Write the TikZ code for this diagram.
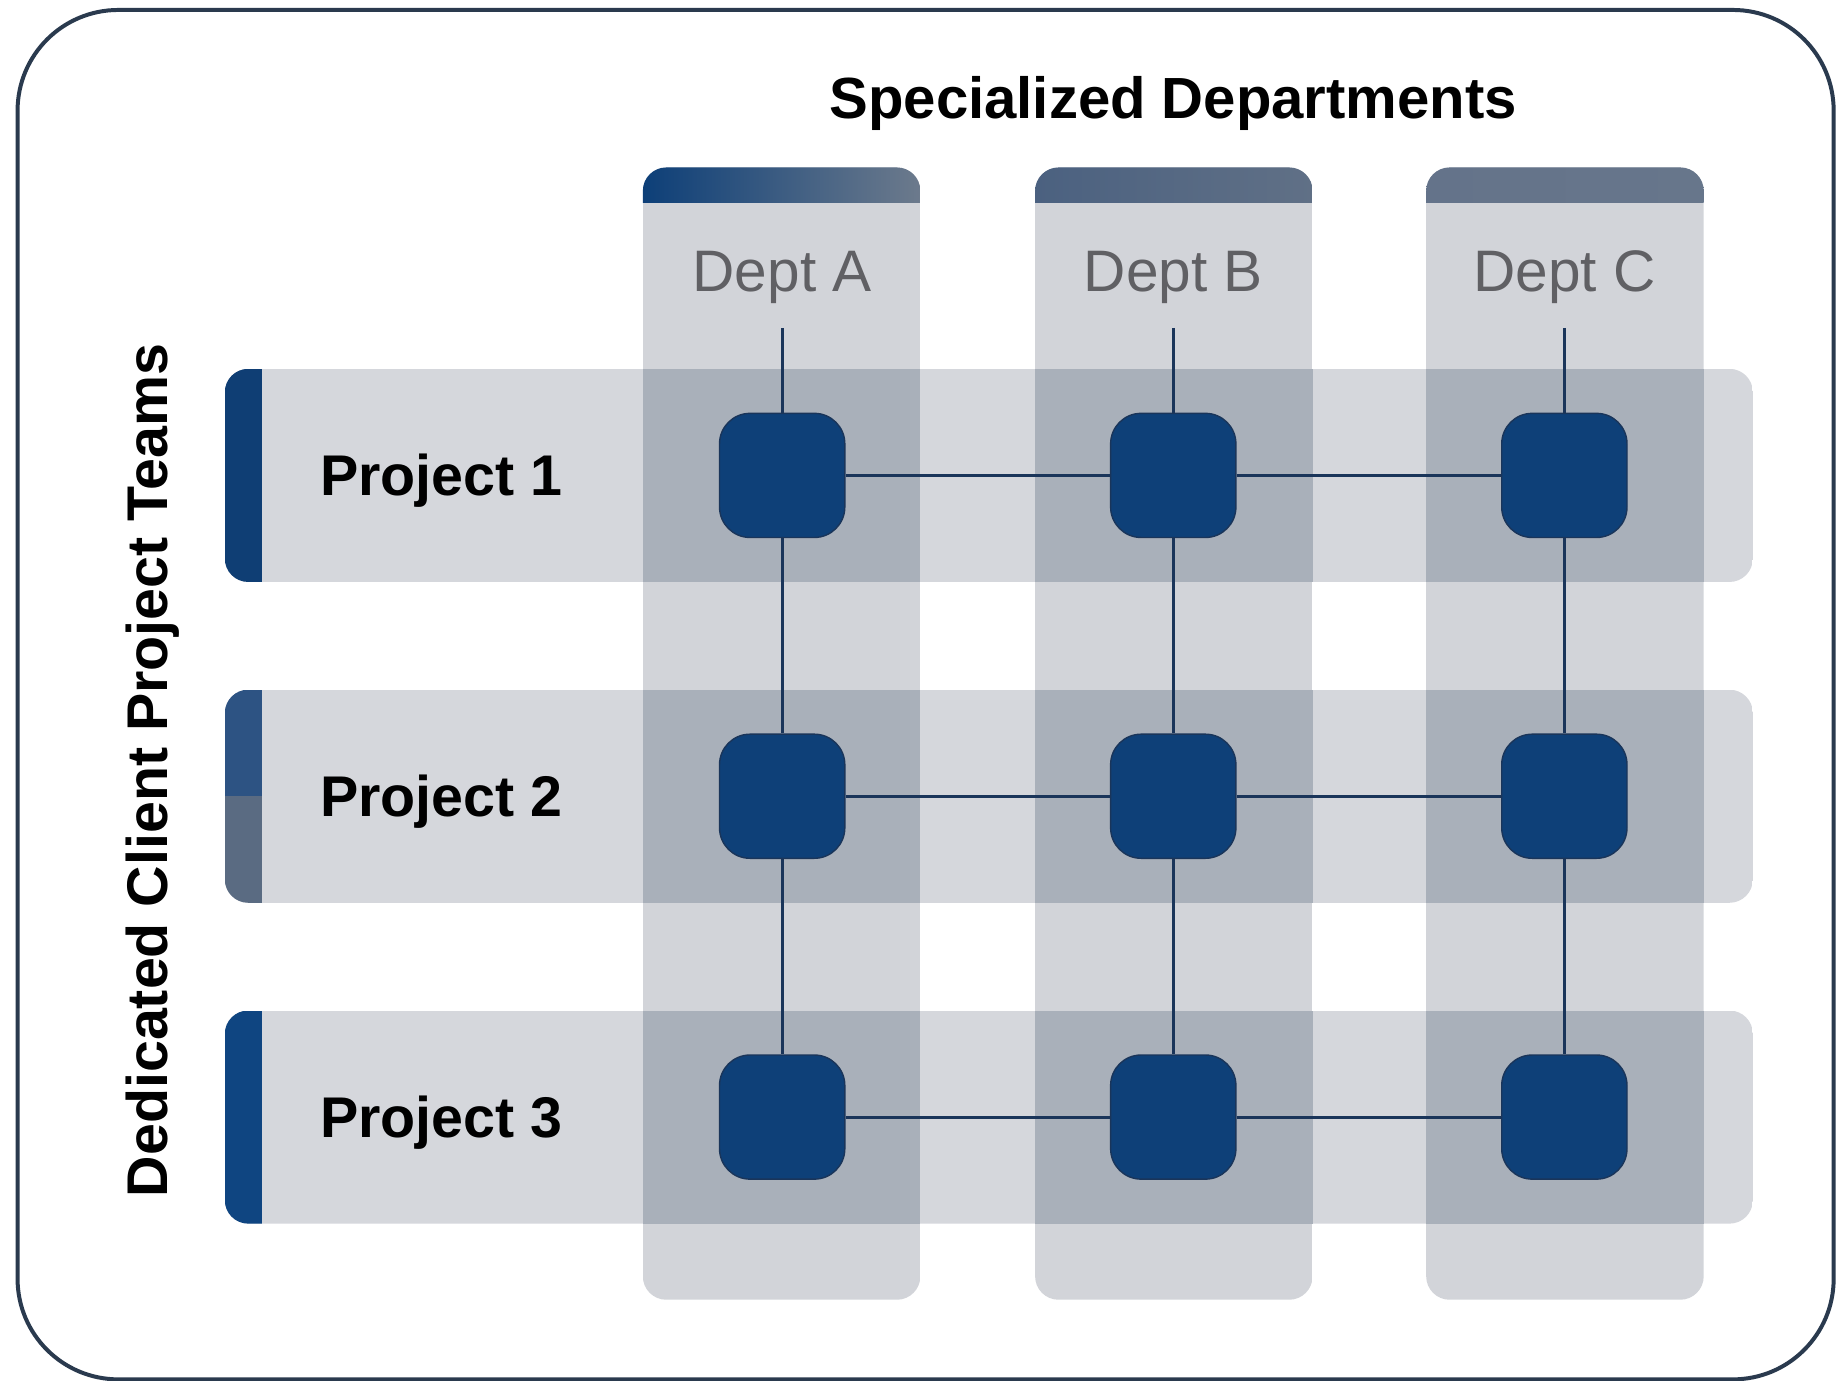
\documentclass[tikz,border=0pt]{standalone}
\usepackage{fontspec}
\setmainfont{Liberation Sans}
\definecolor{colbg}{HTML}{D2D4D9}
\definecolor{rowbg}{HTML}{D5D7DC}
\definecolor{overlap}{HTML}{A9B0BA}
\definecolor{navy}{HTML}{0E4078}
\definecolor{linknavy}{HTML}{1A355A}
\definecolor{deptgray}{HTML}{606064}
\definecolor{framec}{HTML}{2A3A4E}
\definecolor{hAl}{HTML}{0D3F78}
\definecolor{hAm}{HTML}{174680}
\definecolor{hAr}{HTML}{6C7A8C}
\definecolor{hBl}{HTML}{4B6180}
\definecolor{hBm}{HTML}{556984}
\definecolor{hBr}{HTML}{607086}
\definecolor{hCl}{HTML}{64738A}
\definecolor{hCm}{HTML}{65748A}
\definecolor{hCr}{HTML}{67768B}
\definecolor{acc1}{HTML}{0F3E74}
\definecolor{acc2t}{HTML}{2D5383}
\definecolor{acc2b}{HTML}{5A6B82}
\definecolor{acc3}{HTML}{0F4581}
\begin{document}
\begin{tikzpicture}[x=0.5pt,y=-0.5pt,
  cell/.style={draw=linknavy, line width=0.6pt, fill=navy, rounded corners=13pt,
    minimum width=53.5pt, minimum height=53pt, inner sep=0pt},
  link/.style={draw=linknavy, line width=1.3pt},
  titlelbl/.style={font=\fontsize{24.8}{30}\selectfont\bfseries, text=black, inner sep=0pt},
  projlbl/.style={font=\fontsize{24.5}{30}\selectfont\bfseries, text=black, inner sep=0pt},
  deptlbl/.style={font=\fontsize{25}{30}\selectfont, text=deptgray, inner sep=0pt},
  framebox/.style={draw=framec, line width=1.7pt, rounded corners=43pt}
]
\useasboundingbox (0,0) rectangle (1568,1179);
\fill[white] (0,0) rectangle (1568,1179);

% outer frame
\draw[framebox] (15,8.5) rectangle (1566,1178);

% department columns
\foreach \x/\lc/\mc/\rc in {549/hAl/hAm/hAr, 884/hBl/hBm/hBr, 1218/hCl/hCm/hCr}{
  \begin{scope}
    \path[clip, rounded corners=10pt] (\x,143) rectangle ++(237,967);
    \fill[colbg] (\x,143) rectangle ++(237,967);
    \shade[left color=\lc, middle color=\mc, right color=\rc] (\x,143) rectangle ++(237,30);
  \end{scope}
}

% project rows
\foreach \y/\ta/\tb in {315/acc1/acc1, 589/acc2t/acc2b, 863/acc3/acc3}{
  \begin{scope}
    \path[clip, rounded corners=10pt] (192,\y) rectangle (1497,\y+182);
    \fill[rowbg] (192,\y) rectangle (1497,\y+182);
    \fill[\ta] (192,\y) rectangle (224,\y+91);
    \fill[\tb] (192,\y+91) rectangle (224,\y+182);
  \end{scope}
}

% overlaps
\foreach \x in {549,884,1218}{
  \foreach \y in {315,589,863}{
    \fill[overlap] (\x,\y) rectangle ++(237,182);
  }
}

% titles
\node[titlelbl, anchor=base] (title) at (1002,101) {Specialized Departments};
\node[projlbl, rotate=90, anchor=base] (teams) at (143,658) {Dedicated Client Project Teams};

% department labels and coordinates
\node[deptlbl, anchor=base] (da) at (668,249) {Dept A};
\node[deptlbl, anchor=base] (db) at (1002,249) {Dept B};
\node[deptlbl, anchor=base] (dc) at (1336,249) {Dept C};
\coordinate (ta) at (668,280);
\coordinate (tb) at (1002,280);
\coordinate (tc) at (1336,280);

% project labels
\node[projlbl, anchor=base west] (p1) at (273,423.5) {Project 1};
\node[projlbl, anchor=base west] (p2) at (273,697.5) {Project 2};
\node[projlbl, anchor=base west] (p3) at (273,971.5) {Project 3};

% cells
\foreach \c/\x in {a/668, b/1002, c/1336}{
  \foreach \r/\y in {1/406, 2/680, 3/954}{
    \node[cell] (\c\r) at (\x,\y) {};
  }
}

% connectors
\foreach \c in {a,b,c}{
  \draw[link] (t\c) -- (\c1);
  \draw[link] (\c1) -- (\c2);
  \draw[link] (\c2) -- (\c3);
}
\foreach \r in {1,2,3}{
  \draw[link] (a\r) -- (b\r);
  \draw[link] (b\r) -- (c\r);
}
\end{tikzpicture}
\end{document}
